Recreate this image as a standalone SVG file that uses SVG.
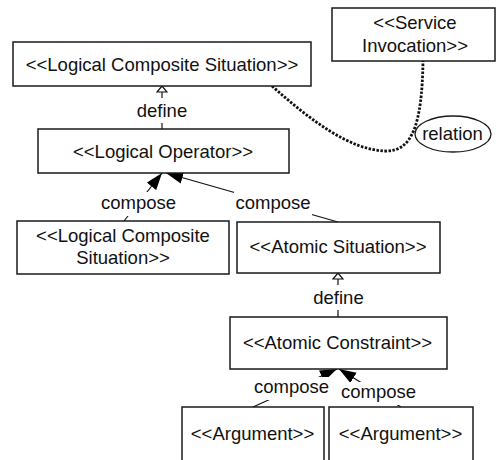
<svg xmlns="http://www.w3.org/2000/svg" width="496" height="460" viewBox="0 0 496 460">
<style>
.box{fill:#fff;stroke:#1a1a1a;stroke-width:1.5}
.t{font-family:"Liberation Sans",Arial,sans-serif;font-size:18.5px;fill:#111;text-anchor:middle}
.ln{stroke:#111;stroke-width:1.2;fill:none}
.bg{fill:#fff}
.dot{stroke:#111;stroke-width:2.8;fill:none;stroke-dasharray:2.5 1.5}
</style>
<defs>
<marker id="hollow" markerUnits="userSpaceOnUse" markerWidth="10" markerHeight="12" refX="7" refY="6" orient="auto" viewBox="0 0 10 12">
<path d="M1,1 L7,6 L1,11 Z" fill="#fff" stroke="#111" stroke-width="1.2"/>
</marker>
<marker id="filled" markerUnits="userSpaceOnUse" markerWidth="18" markerHeight="13" refX="17" refY="6.5" orient="auto" viewBox="0 0 18 13">
<path d="M0,0.5 L17,6.5 L0,12.5 Z" fill="#000"/>
</marker>
</defs>
<rect width="496" height="460" fill="#fff"/>
<g id="connectors">
<path class="dot" d="M272,86 C310,120 350,150 385,151 C412,152 422,125 423,61"/>
<line class="ln" x1="162" y1="129" x2="162" y2="86" marker-end="url(#hollow)"/>
<line class="ln" x1="338" y1="317" x2="338" y2="273" marker-end="url(#hollow)"/>
<line class="ln" x1="124" y1="221" x2="162" y2="173" marker-end="url(#filled)"/>
<line class="ln" x1="338" y1="222" x2="166" y2="173" marker-end="url(#filled)"/>
<line class="ln" x1="253" y1="407" x2="337" y2="369" marker-end="url(#filled)"/>
<line class="ln" x1="401" y1="407" x2="339" y2="369" marker-end="url(#filled)"/>
<rect class="bg" x="136" y="98" width="54" height="25"/>
<text class="t" x="162" y="117">define</text>
<rect class="bg" x="312" y="285" width="54" height="25"/>
<text class="t" x="338.5" y="304">define</text>
<rect class="bg" x="100" y="192" width="78" height="24"/>
<text class="t" x="138.5" y="209">compose</text>
<rect class="bg" x="234" y="192" width="78" height="24"/>
<text class="t" x="273" y="209">compose</text>
<rect class="bg" x="253" y="377" width="78" height="23"/>
<text class="t" x="291.5" y="393">compose</text>
<rect class="bg" x="340" y="382" width="78" height="23"/>
<text class="t" x="378.5" y="398">compose</text>
<ellipse cx="453" cy="134" rx="38" ry="18" fill="#fff" stroke="#1a1a1a" stroke-width="1.3"/>
<text class="t" x="452.5" y="139.5">relation</text>
</g>
<g id="lcs-top">
<rect class="box" x="13" y="42" width="298" height="44"/>
<text class="t" x="162" y="70.5">&lt;&lt;Logical Composite Situation&gt;&gt;</text>
</g>
<g id="service-invocation">
<rect class="box" x="332" y="8" width="163" height="53"/>
<text class="t" x="415" y="29">&lt;&lt;Service</text>
<text class="t" x="415" y="51.5">Invocation&gt;&gt;</text>
</g>
<g id="logical-operator">
<rect class="box" x="38" y="129" width="251" height="44"/>
<text class="t" x="163" y="157.5">&lt;&lt;Logical Operator&gt;&gt;</text>
</g>
<g id="lcs-bottom">
<rect class="box" x="17" y="221" width="212" height="53"/>
<text class="t" x="123" y="242">&lt;&lt;Logical Composite</text>
<text class="t" x="123" y="263.5">Situation&gt;&gt;</text>
</g>
<g id="atomic-situation">
<rect class="box" x="237" y="222" width="203" height="51"/>
<text class="t" x="338" y="253">&lt;&lt;Atomic Situation&gt;&gt;</text>
</g>
<g id="atomic-constraint">
<rect class="box" x="230" y="317" width="217" height="52"/>
<text class="t" x="337.5" y="349">&lt;&lt;Atomic Constraint&gt;&gt;</text>
</g>
<g id="argument-1">
<rect class="box" x="182" y="407" width="142" height="56"/>
<text class="t" x="252.5" y="440">&lt;&lt;Argument&gt;&gt;</text>
</g>
<g id="argument-2">
<rect class="box" x="329" y="407" width="144" height="56"/>
<text class="t" x="400.5" y="440">&lt;&lt;Argument&gt;&gt;</text>
</g>
</svg>
